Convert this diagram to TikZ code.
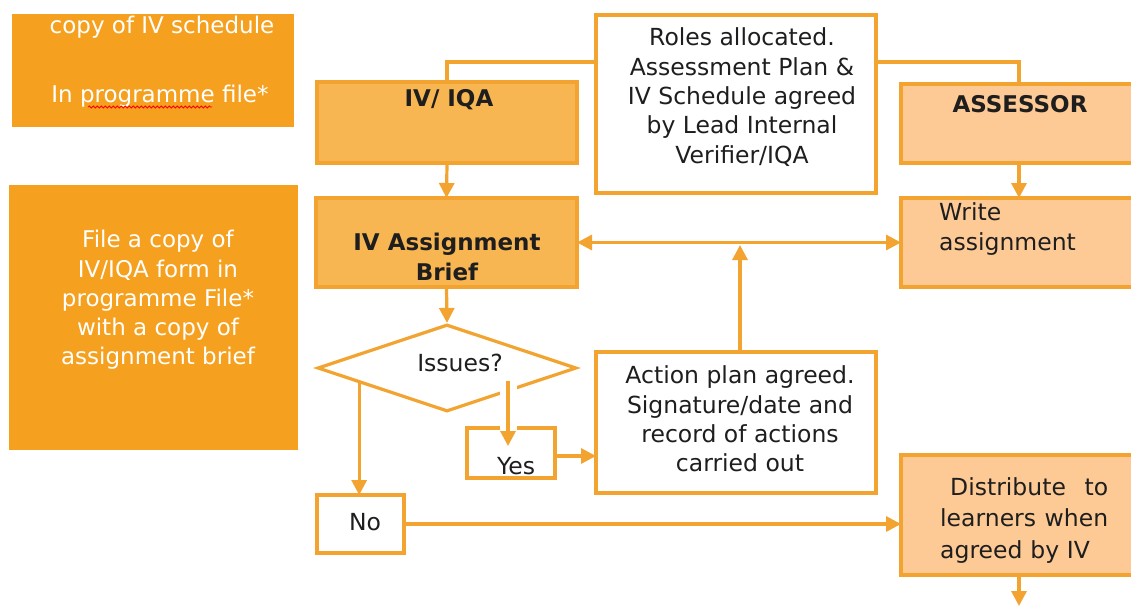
\documentclass[tikz,border=0pt]{standalone}
\usepackage{fontspec}
\setmainfont{DejaVu Sans}
\usetikzlibrary{arrows.meta,shapes.geometric,calc,decorations.pathmorphing}
\definecolor{lineor}{HTML}{F2A330}
\definecolor{darkor}{HTML}{F5A11F}
\definecolor{midor}{HTML}{F7B652}
\definecolor{lightor}{HTML}{FDCA96}
\definecolor{ink}{HTML}{1E1E1E}
\tikzset{
  box/.style={draw=lineor, line width=3.2pt, inner sep=0pt, outer sep=0pt, anchor=north west},
  sidebox/.style={fill=darkor, inner sep=0pt, outer sep=0pt, anchor=north west},
  txt/.style={text=ink, font=\fontsize{23.5}{29.3}\selectfont, inner sep=0pt, align=center},
  wtxt/.style={text=white, font=\fontsize{23}{29.3}\selectfont, inner sep=0pt, align=center},
  btxt/.style={text=ink, font=\fontsize{23}{29.3}\selectfont\bfseries, inner sep=0pt, align=center},
  conn/.style={draw=lineor, line width=3.2pt},
  tip/.tip={Triangle[length=15pt,width=15pt]},
  arr/.style={conn, -tip},
  darr/.style={conn, tip-tip},
}
\begin{document}
\begin{tikzpicture}[x=1pt,y=-1pt]
\useasboundingbox (0,0) rectangle (1131,606);
\clip (0,0) rectangle (1131,606);
% left orange panels
\node[sidebox, minimum width=282, minimum height=113] (side1) at (12,14) {};
\node[wtxt] (side1a) at (162,27) {copy of IV schedule};
\node[wtxt] (side1b) at (160,96) {In programme file*};
\draw[red, line width=0.8pt, decorate, decoration={snake, segment length=4pt, amplitude=1pt}] (88,107) -- (212,107);
\node[sidebox, minimum width=289, minimum height=265] (side2) at (9,185) {};
\node[wtxt] (side2t) at (158,300) {File a copy of\\IV/IQA form in\\programme File*\\with a copy of\\assignment brief};
% main boxes
\node[box, fill=midor, minimum width=260, minimum height=81] (iviqa) at (317,82) {};
\node[btxt] (iviqat) at (449,100) {IV/ IQA};
\node[box, fill=white, minimum width=280, minimum height=178] (roles) at (596,15) {};
\node[txt] (rolest) at (742,97) {Roles allocated.\\Assessment Plan \&\\IV Schedule agreed\\by Lead Internal\\Verifier/IQA};
\node[box, fill=lightor, minimum width=236, minimum height=79] (assessor) at (901,84) {};
\node[btxt] (assessort) at (1020,104) {ASSESSOR};
\node[box, fill=midor, minimum width=261, minimum height=89] (brief) at (316,198) {};
\node[btxt] (brieft) at (447,257) {IV Assignment\\Brief};
\node[box, fill=lightor, minimum width=236, minimum height=89] (write) at (901,198) {};
\node[txt, align=left, anchor=west] (writet) at (939,229) {Write\\assignment};
\node[draw=lineor, line width=3.2pt, diamond, aspect=2.98, minimum width=259, minimum height=87, inner sep=0pt] (dia) at (447,368) {};
\node[txt] (diat) at (460,363) {Issues?};
\node[box, fill=white, minimum width=88, minimum height=50] (yes) at (467,428) {};
\node[txt] (yest) at (516,466) {Yes};
\node[box, fill=white, minimum width=280, minimum height=141] (action) at (596,352) {};
\node[txt] (actiont) at (740,419) {Action plan agreed.\\Signature/date and\\record of actions\\carried out};
\node[box, fill=white, minimum width=87, minimum height=58] (no) at (317,495) {};
\node[txt] (not) at (365,522) {No};
\node[box, fill=lightor, minimum width=236, minimum height=120] (dist) at (901,455) {};
\node[txt, font=\fontsize{23.5}{31.5}\selectfont, align=left, anchor=north west, text width=168] (distt) at (940,477) {\hspace*{10pt}Distribute\hfill to\\learners\hfill when\\agreed by IV};
% connectors
\coordinate (rl) at (446,62);
\coordinate (rr) at (1019,62);
\draw[conn] (roles.west |- rl) -| (iviqa.north);
\draw[conn] (roles.east |- rr) -| (assessor.north);
\draw[arr] (iviqa.south) -- (brief.north);
\draw[arr] (assessor.south) -- (write.north);
\draw[darr] (brief.east) -- (write.west);
\coordinate (hub) at (740,245);
\coordinate (actop) at (740,352);
\draw[arr] (actop) -- (hub);
\draw[arr] (brief.south) -- (dia.north);
\coordinate (nostart) at ($(dia.west)!0.33!(dia.south)$);
\draw[arr] (nostart) -- (nostart |- no.north);
\fill[white] (500,376) rectangle (517,433);
\coordinate (ystart) at (508,381);
\coordinate (yend) at (508,446);
\draw[arr] (ystart) -- (yend);
\coordinate (yy) at (0,456);
\draw[arr] (yes.east |- yy) -- (action.west |- yy);
\draw[arr] (no.east) -- (dist.west |- no.east);
\coordinate (distend) at (1019,606);
\draw[arr] (dist.south) -- (distend);
\end{tikzpicture}
\end{document}
